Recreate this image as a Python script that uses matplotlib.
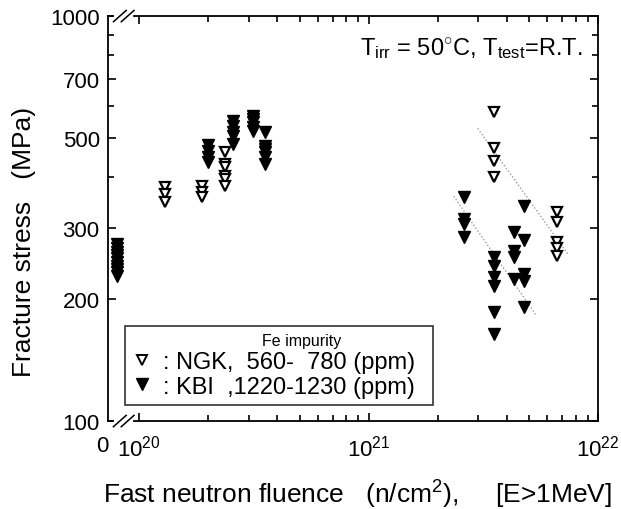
# fracture stress vs fast neutron fluence, log-log with a broken x axis at 0
import numpy as np
import matplotlib.pyplot as plt
from matplotlib.lines import Line2D

plt.rcParams['font.family'] = ['Liberation Sans', 'DejaVu Sans']
plt.rcParams['mathtext.fontset'] = 'custom'
plt.rcParams['mathtext.rm'] = 'Liberation Sans'
plt.rcParams['mathtext.it'] = 'Liberation Sans:italic'

# NGK, open triangles (fluence n/cm2, stress MPa)
ngk_fluence = [1.3e20, 1.3e20, 1.3e20,
               1.88e20, 1.88e20, 1.88e20,
               2.37e20, 2.37e20, 2.37e20, 2.37e20, 2.37e20, 2.37e20,
               3.52e21, 3.52e21, 3.52e21, 3.52e21,
               6.6e21, 6.6e21, 6.6e21, 6.6e21, 6.6e21]
ngk_stress = [378, 363, 347,
              380, 367, 358,
              461, 431, 424, 403, 396, 381,
              580, 472, 439, 400,
              328, 310, 277, 267, 255]

# KBI, filled triangles (0 = unirradiated)
kbi_fluence = [0] * 10 + \
              [2.0e20] * 4 + [2.57e20] * 5 + [3.15e20] * 5 + [3.55e20] * 6 + \
              [2.6e21] * 4 + [3.52e21] * 6 + [4.3e21] * 4 + [4.75e21] * 5
kbi_stress = [274, 268, 262, 257, 252, 247, 242, 237, 233, 228,
              480, 464, 449, 436,
              551, 535, 517, 506, 483,
              566, 557, 547, 532, 520,
              517, 477, 470, 461, 449, 431,
              357, 315, 306, 285,
              254, 241, 227, 216, 186, 164,
              293, 263, 254, 224,
              340, 280, 231, 222, 191]

# hand drawn trend lines (start, end)
ngk_trend_x = [2.99e21, 7.4e21]
ngk_trend_y = [528, 258]
kbi_trend_x = [2.35e21, 5.36e21]
kbi_trend_y = [359, 183]

ZERO_POS = 8.0e19  # where fluence 0 is drawn on the broken axis
x_left = 7.32e19

fig = plt.figure(figsize=(6.21, 5.10), dpi=100)
ax = fig.add_axes([0.174, 0.1725, 0.789, 0.794])
ax.set_xscale('log')
ax.set_yscale('log')

ax.plot(ngk_trend_x, ngk_trend_y, ls=(0, (1, 1.5)), color='#9a9a9a', lw=1.0)
ax.plot(kbi_trend_x, kbi_trend_y, ls=(0, (1, 1.5)), color='#9a9a9a', lw=1.0)

kx = np.array(kbi_fluence, dtype=float)
kx[kx == 0] = ZERO_POS
ax.plot(kx, kbi_stress, 'v', ms=9, mfc='black', mec='black', ls='none')
ax.plot(ngk_fluence, ngk_stress, 'v', ms=7.5, mfc='white', mec='black', mew=1.6, ls='none')

ax.set_xlim(x_left, 1e22)
ax.set_ylim(100, 1000)

ax.set_xticks([1e20, 1e21, 1e22])
ax.set_xticklabels(['$10^{20}$', '$10^{21}$', '$10^{22}$'])
ax.set_xticks([k * 10.0**e for e in (20, 21) for k in range(2, 10)], minor=True)
ax.set_xticklabels([], minor=True)
ax.set_yticks([100, 200, 300, 500, 700, 1000])
ax.set_yticklabels(['100', '200', '300', '500', '700', '1000'])
ax.set_yticks([400, 600, 800, 900], minor=True)
ax.set_yticklabels([], minor=True)
ax.tick_params(which='both', direction='in', top=True, right=True, labelsize=16, width=1.2)
ax.tick_params(which='major', length=6)
ax.tick_params(which='minor', length=4)
ax.tick_params(axis='x', pad=10)
ax.tick_params(axis='y', pad=6)
for s in ax.spines.values():
    s.set_linewidth(1.3)

# "0" label at the broken end
ax.text(0.0, -0.035, '0', transform=ax.transAxes, ha='right', va='top', fontsize=16)

# break marks
for yb in (0, 1):
    ax.plot([0.016, 0.047], [yb, yb], color='white', lw=3, transform=ax.transAxes, clip_on=False, zorder=5)
    for xc in (0.024, 0.040):
        ax.plot([xc - 0.013, xc + 0.013], [yb - 0.014, yb + 0.014], color='black', lw=1.1,
                transform=ax.transAxes, clip_on=False, zorder=6)

ax.set_ylabel('Fracture stress   (MPa)', fontsize=19)
ax.yaxis.set_label_coords(-0.147, 0.444)
ax.set_xlabel('Fast neutron fluence   (n/cm$^2$),     [E>1MeV]', fontsize=19)
ax.xaxis.set_label_coords(0.51, -0.14)

ax.text(0.969, 0.923, r'T$_{\mathrm{irr}}$ = 50$^{\circ}$C, T$_{\mathrm{test}}$=R.T.',
        transform=ax.transAxes, ha='right', va='center', fontsize=17)

h1 = Line2D([], [], marker='v', ls='none', ms=7.5, mfc='white', mec='black', mew=1.4)
h2 = Line2D([], [], marker='v', ls='none', ms=9, mfc='black', mec='black')
leg = ax.legend([h1, h2], [': NGK,  560-  780 (ppm)', ': KBI  ,1220-1230 (ppm)'],
                title='          Fe impurity', title_fontsize=11.5, fontsize=17,
                loc='lower left', bbox_to_anchor=(0.035, 0.04, 0.628, 0.2), mode='expand',
                frameon=True, fancybox=False,
                handlelength=0.8, handletextpad=0.5, borderpad=0.3, labelspacing=0.12,
                borderaxespad=0)
leg.get_frame().set_edgecolor('black')
leg.get_frame().set_linewidth(1.2)

fig.savefig('out.png', dpi=100)
